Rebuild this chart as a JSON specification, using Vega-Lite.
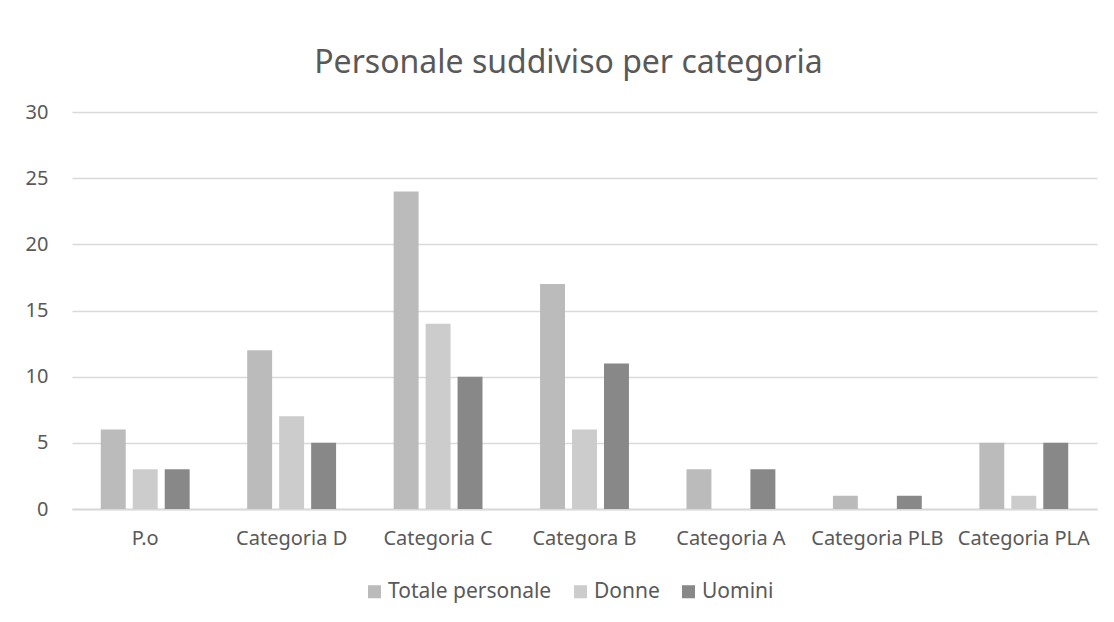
{
  "$schema": "https://vega.github.io/schema/vega-lite/v6.json",
  "width": 1025,
  "height": 397,
  "autosize": {"type": "none"},
  "padding": {"left": 72, "top": 112, "right": 17, "bottom": 113},
  "background": "white",
  "title": {
    "text": "Personale suddiviso per categoria",
    "font": "Noto Sans",
    "fontWeight": "normal",
    "fontSize": 32,
    "color": "#595959",
    "anchor": "middle",
    "dx": -16,
    "offset": 22
  },
  "data": {
    "values": [
      {"categoria": "P.o", "serie": "Totale personale", "valore": 6},
      {"categoria": "P.o", "serie": "Donne", "valore": 3},
      {"categoria": "P.o", "serie": "Uomini", "valore": 3},
      {"categoria": "Categoria D", "serie": "Totale personale", "valore": 12},
      {"categoria": "Categoria D", "serie": "Donne", "valore": 7},
      {"categoria": "Categoria D", "serie": "Uomini", "valore": 5},
      {"categoria": "Categoria C", "serie": "Totale personale", "valore": 24},
      {"categoria": "Categoria C", "serie": "Donne", "valore": 14},
      {"categoria": "Categoria C", "serie": "Uomini", "valore": 10},
      {"categoria": "Categora B", "serie": "Totale personale", "valore": 17},
      {"categoria": "Categora B", "serie": "Donne", "valore": 6},
      {"categoria": "Categora B", "serie": "Uomini", "valore": 11},
      {"categoria": "Categoria A", "serie": "Totale personale", "valore": 3},
      {"categoria": "Categoria A", "serie": "Donne", "valore": 0},
      {"categoria": "Categoria A", "serie": "Uomini", "valore": 3},
      {"categoria": "Categoria PLB", "serie": "Totale personale", "valore": 1},
      {"categoria": "Categoria PLB", "serie": "Donne", "valore": 0},
      {"categoria": "Categoria PLB", "serie": "Uomini", "valore": 1},
      {"categoria": "Categoria PLA", "serie": "Totale personale", "valore": 5},
      {"categoria": "Categoria PLA", "serie": "Donne", "valore": 1},
      {"categoria": "Categoria PLA", "serie": "Uomini", "valore": 5}
    ]
  },
  "mark": {"type": "bar"},
  "encoding": {
    "x": {
      "field": "categoria",
      "type": "nominal",
      "sort": null,
      "scale": {"paddingInner": 0, "paddingOuter": 0},
      "axis": {
        "title": null,
        "labelAngle": 0,
        "ticks": false,
        "domainColor": "#d9d9d9",
        "domainWidth": 2,
        "labelFont": "Noto Sans",
        "labelFontSize": 20,
        "labelColor": "#595959",
        "labelPadding": 19
      }
    },
    "xOffset": {
      "field": "serie",
      "type": "nominal",
      "sort": ["Totale personale", "Donne", "Uomini"],
      "scale": {"paddingInner": 0.22, "paddingOuter": 0.9}
    },
    "y": {
      "field": "valore",
      "type": "quantitative",
      "scale": {"domain": [0, 30], "nice": false},
      "axis": {
        "title": null,
        "values": [0, 5, 10, 15, 20, 25, 30],
        "domain": false,
        "ticks": false,
        "gridColor": "#d9d9d9",
        "gridWidth": 1.5,
        "labelFont": "Noto Sans",
        "labelFontSize": 20,
        "labelColor": "#595959",
        "labelPadding": 24
      }
    },
    "color": {
      "field": "serie",
      "type": "nominal",
      "scale": {
        "domain": ["Totale personale", "Donne", "Uomini"],
        "range": ["#bbbbbb", "#cccccc", "#888888"]
      },
      "legend": {
        "title": null,
        "orient": "none",
        "legendX": 292,
        "legendY": 469,
        "direction": "horizontal",
        "symbolType": "square",
        "symbolSize": 170,
        "symbolStrokeWidth": 0,
        "labelFont": "Noto Sans",
        "labelFontSize": 21,
        "labelLimit": 400,
        "labelColor": "#595959",
        "columnPadding": 18,
        "labelOffset": 3
      }
    }
  },
  "config": {
    "view": {"stroke": null}
  }
}
